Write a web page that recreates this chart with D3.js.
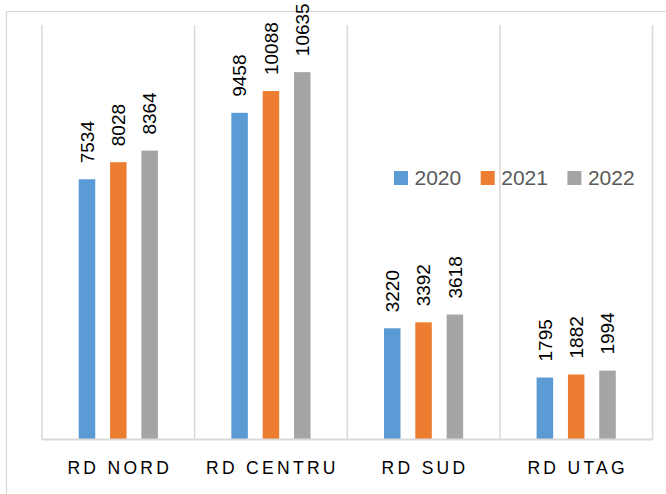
<!DOCTYPE html>
<html>
<head>
<meta charset="utf-8">
<script src="https://cdn.jsdelivr.net/npm/d3@7"></script>
<style>
  body { margin: 0; background: #fff; }
  svg { display: block; font-family: 'Liberation Sans', Arial, sans-serif; }
</style>
</head>
<body>
<svg width="666" height="494"></svg>
<script>
const categories = ['RD NORD', 'RD CENTRU', 'RD SUD', 'RD UTAG'];
const years = ['2020', '2021', '2022'];
const values2020 = [7534, 9458, 3220, 1795];
const values2021 = [8028, 10088, 3392, 1882];
const values2022 = [8364, 10635, 3618, 1994];
const colors = ['#5b9bd5', '#ed7d31', '#a5a5a5'];

const seriesValues = [values2020, values2021, values2022];

const svg = d3.select('svg');

const margin = {left: 42, right: 14, top: 25, baseline: 439.5};

// outer border of the chart area
svg.append('rect')
    .attr('x', 6.5)
    .attr('y', 11.5)
    .attr('width', 700)
    .attr('height', 600)
    .attr('fill', 'none')
    .attr('stroke', '#d9d9d9')
    .attr('stroke-width', 1.3);

const xScale = d3.scaleBand()
    .domain(categories)
    .range([margin.left, 652.5])
    .padding(0);

const xInner = d3.scaleBand()
    .domain(years)
    .range([-47, 47])
    .paddingInner(0.473)
    .paddingOuter(0.2365);

const yScale = d3.scaleLinear()
    .domain([0, 12000])
    .range([margin.baseline, margin.top]);

// vertical separators between categories
const bounds = categories.map(c => xScale(c)).concat([xScale.range()[1]]);
svg.append('g')
    .selectAll('line')
    .data(bounds)
    .join('line')
    .attr('x1', d => d)
    .attr('x2', d => d)
    .attr('y1', yScale(12000))
    .attr('y2', yScale(0))
    .attr('stroke', '#d9d9d9')
    .attr('stroke-width', 1.5);

const rows = [];
categories.forEach((c, i) => {
    years.forEach((y, j) => {
        rows.push({category: c, year: y, value: seriesValues[j][i], color: colors[j]});
    });
});

const barX = d => xScale(d.category) + xScale.bandwidth() / 2 + xInner(d.year);

svg.append('g')
    .selectAll('rect')
    .data(rows)
    .join('rect')
    .attr('x', barX)
    .attr('y', d => yScale(d.value))
    .attr('width', xInner.bandwidth())
    .attr('height', d => yScale(0) - yScale(d.value))
    .attr('fill', d => d.color);

// value labels, rotated
svg.append('g')
    .selectAll('text')
    .data(rows)
    .join('text')
    .attr('transform', d => `translate(${barX(d) + xInner.bandwidth() / 2}, ${yScale(d.value) - 16}) rotate(-90)`)
    .attr('dy', '0.35em')
    .attr('font-size', 19)
    .attr('fill', '#000')
    .text(d => d.value);

// baseline
svg.append('line')
    .attr('x1', xScale.range()[0])
    .attr('x2', xScale.range()[1])
    .attr('y1', yScale(0))
    .attr('y2', yScale(0))
    .attr('stroke', '#d9d9d9')
    .attr('stroke-width', 2);

// category labels
svg.append('g')
    .selectAll('text')
    .data(categories)
    .join('text')
    .attr('x', d => xScale(d) + xScale.bandwidth() / 2 + 1.5)
    .attr('y', 474)
    .attr('text-anchor', 'middle')
    .attr('font-size', 17.5)
    .attr('letter-spacing', 3.3)
    .attr('fill', '#000')
    .text(d => d);

// legend
const legend = svg.append('g')
    .attr('transform', 'translate(394, 171)');

const legendItem = legend.selectAll('g')
    .data(years)
    .join('g')
    .attr('transform', (d, i) => `translate(${i * 86.7}, 0)`);

legendItem.append('rect')
    .attr('width', 14)
    .attr('height', 14)
    .attr('fill', (d, i) => colors[i]);

legendItem.append('text')
    .attr('x', 20.5)
    .attr('y', 14)
    .attr('font-size', 21)
    .attr('fill', '#595959')
    .text(d => d);
</script>
</body>
</html>
